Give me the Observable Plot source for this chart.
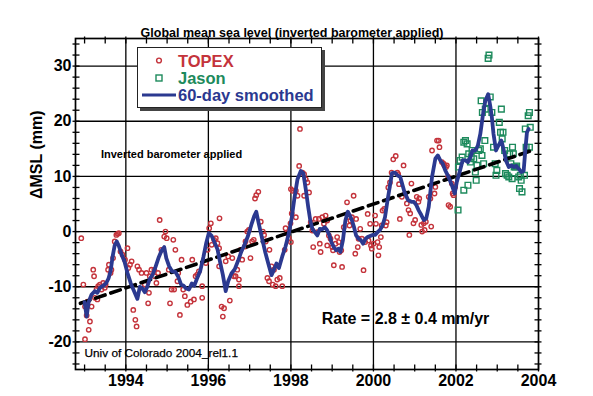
<!DOCTYPE html>
<html><head><meta charset="utf-8">
<script src="https://cdn.jsdelivr.net/npm/d3@7"></script>
<script src="https://cdn.jsdelivr.net/npm/@observablehq/plot@0.6"></script>
<style>
body{margin:0;background:#fff;}
#wrap{position:relative;width:593px;height:396px;font-family:"Liberation Sans",Arial,Helvetica,sans-serif;}
#legend{position:absolute;left:137px;top:47px;width:183px;height:59px;background:#fff;border:1px solid #222;box-shadow:3px 3px 0 #444;}
#legend .item{position:absolute;left:40px;font-weight:bold;font-size:16.5px;line-height:16px;white-space:nowrap;}
#legend svg{position:absolute;left:0;top:0;}
</style></head><body><div id="wrap"></div>
<script>
// ---- data ----
const topex = [
[1992.92,-1.2],[1992.97,-9.6],[1993.01,-13.6],[1993.05,-15.2],[1993.01,-19.5],[1993.10,-17.8],[1993.13,-16.3],[1993.07,-12.7],[1993.17,-13.6],[1993.21,-6.9],[1993.23,-8.1],[1993.25,-12.0],[1993.29,-10.5],[1993.31,-12.3],[1993.33,-9.9],[1993.37,-9.6],[1993.41,-10.5],[1993.45,-9.3],[1993.49,-10.2],[1993.51,-9.6],[1993.57,-6.9],[1993.59,-6.0],[1993.63,-7.5],[1993.65,-6.9],[1993.69,-4.8],[1993.73,-1.8],[1993.77,-0.6],[1993.80,-0.4],[1993.83,-0.3],[1993.87,-3.6],[1993.92,-4.2],[1993.98,-5.1],[1994.04,-3.0],[1994.06,-6.6],[1994.10,-6.0],[1994.14,-5.4],[1994.18,-14.2],[1994.23,-16.0],[1994.26,-17.2],[1994.28,-6.3],[1994.32,-6.9],[1994.38,-7.5],[1994.46,-9.6],[1994.50,-7.5],[1994.54,-13.0],[1994.56,-11.1],[1994.58,-8.1],[1994.62,-6.9],[1994.69,-6.9],[1994.70,-8.1],[1994.74,-9.3],[1994.78,-7.5],[1994.82,2.1],[1994.86,-3.3],[1994.93,-0.9],[1994.96,0],[1994.99,-1.2],[1995.04,-6.9],[1995.07,-13.0],[1995.11,-10.5],[1995.15,-1.5],[1995.17,-10.5],[1995.20,-3.3],[1995.25,-9.0],[1995.27,-7.5],[1995.31,-15.1],[1995.35,-5.1],[1995.39,-10.5],[1995.43,-11.7],
[1995.49,-13.3],[1995.57,-12.7],[1995.61,-5.1],[1995.65,-12.3],[1995.69,-8.1],[1995.73,-7.8],[1995.77,-7.2],[1995.85,-9.9],[1995.85,-12.0],[1995.94,-5.7],[1995.98,-3.3],[1996.02,0.6],[1996.06,1.5],[1996.08,-2.4],[1996.14,-1.5],[1996.18,-1.2],[1996.22,-2.1],[1996.26,-3.0],[1996.26,-6.3],[1996.27,2.4],[1996.32,-13.6],[1996.35,-15.4],[1996.38,-13.9],[1996.42,-5.4],[1996.48,-4.5],[1996.52,-12.5],[1996.58,-4.8],[1996.62,-8.1],[1996.66,-8.1],[1996.70,-6.9],[1996.74,-8.7],[1996.74,-9.9],[1996.78,-3.3],[1996.82,-5.1],[1996.89,-2.7],[1996.90,-1.8],[1996.94,0],[1996.98,0.3],[1997.02,-4.8],[1997.06,-1.8],[1997.10,-1.5],[1997.13,6.0],[1997.16,6.6],[1997.21,7.2],[1997.27,1.8],[1997.32,0],[1997.35,-0.6],[1997.39,-1.8],[1997.43,-8.4],[1997.47,-9.0],[1997.48,-3.3],[1997.53,-6.3],[1997.56,-9.6],[1997.59,-6.9],[1997.63,-9.9],[1997.67,-8.7],[1997.73,-8.4],[1997.79,-9.9],[1997.85,-3.3],[1997.87,0.6],[1997.91,-0.3],[1997.95,-1.2],[1997.99,1.5],[1998.02,3.3],
[1998.00,7.7],[1998.00,-1.9],[1998.04,7.4],[1998.12,7.4],[1998.12,2.6],[1998.16,6.5],[1998.20,11.9],[1998.22,18.6],[1998.28,10.7],[1998.32,10.4],[1998.36,9.5],[1998.40,8.9],[1998.32,6.5],[1998.44,7.1],[1998.48,1.7],[1998.52,0.2],[1998.54,-2.8],[1998.60,2.3],[1998.64,-0.1],[1998.68,2.3],[1998.70,-2.2],[1998.72,-3.7],[1998.76,2.6],[1998.80,1.4],[1998.84,2.9],[1998.88,2.0],[1998.88,-2.5],[1998.92,-0.7],[1998.96,-1.3],[1999.00,-2.8],[1999.02,-3.4],[1999.04,-6.1],[1999.08,-2.2],[1999.12,-1.0],[1999.16,-1.9],[1999.18,-3.7],[1999.22,-3.4],[1999.24,-6.4],[1999.28,0.8],[1999.36,5.3],[1999.40,2.6],[1999.42,1.1],[1999.44,2.0],[1999.48,2.6],[1999.52,6.5],[1999.56,-4.0],[1999.58,2.3],[1999.62,-2.8],[1999.64,-1.3],[1999.68,0.5],[1999.72,-1.3],[1999.76,-7.0],[1999.80,-1.9],[1999.86,3.2],[1999.88,-1.6],[1999.92,1.4],[1999.94,-2.5],[1999.96,-3.1],[2000.00,-2.2],[2000.04,2.9],[2000.06,1.4],[2000.10,-1.9],[2000.12,-4.3],[2000.14,-2.8],[2000.18,-1.0],[2000.20,1.1],[2000.22,3.8],[2000.26,4.1],[2000.30,1.1],[2000.32,1.7],[2000.36,8.0],[2000.40,8.9],[2000.44,10.7],[2000.48,13.1],[2000.54,13.7],[2000.58,10.7],[2000.60,10.4],[2000.62,8.6],[2000.64,2.3],
[2000.69,6.3],[2000.73,12.0],[2000.77,6.9],[2000.81,5.1],[2000.85,3.9],[2000.87,-0.6],[2000.89,3.3],[2000.92,8.7],[2000.97,1.5],[2001.01,2.1],[2001.05,6.3],[2001.09,5.4],[2001.11,6.0],[2001.16,1.2],[2001.18,0],[2001.22,1.5],[2001.24,0.3],[2001.27,1.8],[2001.34,6.3],[2001.38,6.0],[2001.40,0.9],[2001.42,14.7],[2001.48,6.9],[2001.50,8.1],[2001.54,16.5],[2001.58,16.5],[2001.60,15.3],[2001.66,12.6],[2001.70,12.3],[2001.72,12.0],[2001.76,11.7],[2001.78,12.0],[2001.81,9.9],[2001.82,4.8],[2001.86,4.5],[2001.90,8.7],[2001.92,6.9],[2001.94,6.6],[2001.98,8.1]
];
const jason = [
[2002.05,3.9],[2002.06,11.7],[2002.10,12.9],[2002.15,13.5],[2002.19,16.2],[2002.19,7.5],[2002.23,16.5],[2002.27,15.9],[2002.29,8.4],[2002.31,14.1],[2002.35,12.6],[2002.37,13.5],[2002.39,14.7],[2002.43,13.2],[2002.47,10.8],[2002.49,9.3],[2002.51,12.0],[2002.55,14.7],[2002.59,15.0],[2002.63,13.8],[2002.61,23.7],[2002.64,21.6],[2002.67,12.3],[2002.70,16.5],[2002.71,22.2],[2002.75,23.4],[2002.78,31.4],[2002.80,32.0],[2002.83,24.4],[2002.87,21.6],[2002.91,15.3],[2002.95,12.3],[2002.97,10.2],[2002.99,11.1],[2003.05,19.8],[2003.08,18.0],[2003.10,22.2],[2003.12,16.8],[2003.14,18.0],[2003.18,14.7],[2003.20,10.5],[2003.24,10.2],[2003.28,9.9],[2003.30,14.1],[2003.33,12.3],[2003.37,15.3],[2003.39,14.1],[2003.36,9.6],[2003.41,11.7],[2003.44,11.7],[2003.47,11.9],[2003.52,9.9],[2003.56,10.2],[2003.58,9.3],[2003.54,7.8],[2003.60,7.2],[2003.66,10.2],[2003.68,18.6],[2003.70,15.3],[2003.75,21.0],[2003.78,21.6],[2003.80,18.9],[2003.78,15.3]
];
const smoothed = [
[1993.00,-12.8],[1993.05,-15.4],[1993.10,-12.7],[1993.17,-11.4],[1993.25,-10.8],[1993.31,-11.1],[1993.37,-10.2],[1993.45,-9.8],[1993.52,-9.4],[1993.58,-8.5],[1993.63,-7.2],[1993.68,-4.5],[1993.73,-2.5],[1993.78,-1.8],[1993.83,-2.6],[1993.90,-4.2],[1993.97,-5.5],[1994.04,-7.5],[1994.12,-9.4],[1994.20,-10.8],[1994.28,-12.2],[1994.34,-10.0],[1994.40,-10.3],[1994.46,-11.0],[1994.52,-10.0],[1994.58,-8.6],[1994.65,-7.8],[1994.72,-6.4],[1994.80,-4.6],[1994.87,-3.4],[1994.93,-2.8],[1994.98,-4.8],[1995.05,-6.3],[1995.12,-7.2],[1995.20,-7.3],[1995.27,-8.2],[1995.34,-9.6],[1995.40,-9.8],[1995.46,-10.3],[1995.53,-10.5],[1995.60,-9.4],[1995.66,-9.8],[1995.72,-8.6],[1995.80,-7.2],[1995.88,-4.6],[1995.95,-2.0],[1996.01,-0.3],[1996.08,-0.8],[1996.14,-1.8],[1996.22,-3.2],[1996.28,-5.4],[1996.35,-7.8],[1996.42,-10.8],[1996.48,-9.0],[1996.56,-7.6],[1996.64,-6.8],[1996.72,-5.3],[1996.80,-3.6],[1996.88,-2.3],[1996.96,-0.8],[1997.04,1.2],[1997.11,2.8],[1997.16,3.6],[1997.22,1.5],[1997.30,-1.2],[1997.38,-3.8],[1997.46,-6.0],[1997.53,-7.9],[1997.59,-6.9],[1997.65,-5.8],[1997.71,-6.6],[1997.79,-4.5],[1997.87,-2.7],[1997.95,-0.3],[1998.02,2.5],[1998.09,6.3],[1998.16,9.5],[1998.24,11.0],[1998.30,10.6],[1998.36,7.7],[1998.42,4.4],[1998.47,2.0],[1998.52,0.5],[1998.58,-0.1],[1998.64,-0.7],[1998.70,0.5],[1998.76,0.4],[1998.82,0.8],[1998.88,0.2],[1998.93,-0.6],[1998.98,-1.9],[1999.04,-2.8],[1999.10,-3.4],[1999.15,-3.1],[1999.20,-3.7],[1999.26,-1.6],[1999.32,2.0],[1999.38,3.6],[1999.43,2.9],[1999.48,2.0],[1999.53,0.8],[1999.58,-0.7],[1999.64,-1.3],[1999.70,-1.6],[1999.75,-2.2],[1999.81,-1.3],[1999.86,-1.0],[1999.92,-0.8],[1999.98,-0.6],[2000.04,-0.6],[2000.10,-0.1],[2000.16,0.3],[2000.22,1.1],[2000.28,2.6],[2000.34,5.6],[2000.40,8.3],[2000.45,10.6],[2000.52,10.7],[2000.58,10.2],[2000.65,9.9],[2000.75,7.2],[2000.84,5.7],[2000.92,5.4],[2000.98,5.4],[2001.04,4.8],[2001.10,3.8],[2001.16,3.0],[2001.22,2.1],[2001.28,2.4],[2001.34,4.5],[2001.42,9.9],[2001.50,13.2],[2001.56,13.8],[2001.62,12.9],[2001.68,12.3],[2001.74,11.1],[2001.82,9.9],[2001.90,8.4],[2001.97,6.9],[2002.02,9.0],[2002.10,11.1],[2002.16,12.9],[2002.23,12.9],[2002.29,12.6],[2002.35,13.5],[2002.40,14.7],[2002.47,14.7],[2002.53,15.6],[2002.59,17.7],[2002.65,21.0],[2002.71,23.7],[2002.78,24.9],[2002.83,22.8],[2002.87,20.7],[2002.91,17.7],[2002.97,14.7],[2003.03,15.6],[2003.10,16.5],[2003.16,14.7],[2003.21,12.9],[2003.28,11.7],[2003.34,12.0],[2003.40,11.7],[2003.46,11.9],[2003.52,11.4],[2003.58,10.8],[2003.64,11.0],[2003.68,14.7],[2003.72,18.0],[2003.76,18.6]
];
const trend = [[1992.9,-13.0],[2003.8,14.6]];
const xTickLabels = [1994,1996,1998,2000,2002,2004];
const yTickLabels = [-20,-10,0,10,20,30];
const titleText = "Global mean sea level (inverted barometer applied)";
const yLabel = "\u0394MSL (mm)";
const noteText = "Inverted barometer applied";
const creditText = "Univ of Colorado 2004_rel1.1";
const rateText = "Rate = 2.8 \u00b1 0.4 mm/yr";
const seriesNames = ["TOPEX","Jason","60-day smoothed"];
const colors = {topex:"#c4333b", jason:"#1d8a5c", smooth:"#2b3990"};

// ---- chart ----
const xMinor = d3.range(1993, 2004.001, 0.5);
const yMinor = d3.range(-24, 35, 2);
const FONT = "Liberation Sans, Arial, Helvetica, sans-serif";
function ticks(axis, anchor, values){
  const f = axis === "x" ? Plot.axisX : Plot.axisY;
  return [
    f(values, {anchor, tickSize: -4.5, text: null, label: null, stroke:"black", strokeWidth:1.3}),
    f(values, {anchor, tickSize: 2.5, text: null, label: null, stroke:"black", strokeWidth:1.3})
  ];
}
const chart = Plot.plot({
  width: 593, height: 396,
  marginLeft: 75, marginRight: 55, marginTop: 38, marginBottom: 27,
  x: {domain: [1992.78, 2004], axis: null},
  y: {domain: [-25, 35], axis: null},
  style: {fontFamily: FONT, background: "white", overflow: "visible", color: "black"},
  marks: [
    Plot.gridX(xTickLabels.filter(d => d < 2004), {stroke: "black", strokeOpacity: 1, strokeWidth: 1.3}),
    Plot.gridY(yTickLabels, {stroke: "black", strokeOpacity: 1, strokeWidth: 1.3}),
    ...ticks("x", "bottom", xMinor),
    ...ticks("x", "top", xMinor),
    ...ticks("y", "left", yMinor),
    ...ticks("y", "right", yMinor),
    Plot.frame({stroke: "black", strokeWidth: 1.7}),
    Plot.axisX(xTickLabels, {anchor: "bottom", tickSize: 0, tickPadding: 5, label: null, fontSize: 16, fontWeight: "bold", tickFormat: d => String(d)}),
    Plot.axisY(yTickLabels, {anchor: "left", tickSize: 0, tickPadding: 4, label: null, fontSize: 16, fontWeight: "bold", tickFormat: d => String(d)}),
    Plot.dot(topex, {x: d => d[0], y: d => d[1], r: 2.2, stroke: colors.topex, strokeWidth: 1.4, fill: "none"}),
    Plot.dot(jason, {x: d => d[0], y: d => d[1], symbol: "square", r: 3.2, stroke: colors.jason, strokeWidth: 1.4, fill: "none"}),
    Plot.line(trend, {x: d => d[0], y: d => d[1], stroke: "black", strokeWidth: 3.6, strokeDasharray: "10,6"}),
    Plot.line(smoothed, {x: d => d[0], y: d => d[1], stroke: colors.smooth, strokeWidth: 3.8, strokeLinejoin: "round"}),
    Plot.text([titleText], {frameAnchor: "top", dx: -15, dy: -10, fontSize: 12.5, fontWeight: "bold", fill: "black"}),
    Plot.text([yLabel], {frameAnchor: "left", rotate: -90, dx: -39, dy: -5, fontSize: 16, fontWeight: "bold", fill: "black"}),
    Plot.text([noteText], {frameAnchor: "top-left", textAnchor: "middle", dx: 96, dy: 112, fontSize: 11, fontWeight: "bold", fill: "black"}),
    Plot.text([creditText], {frameAnchor: "bottom-left", textAnchor: "start", dx: 9, dy: -13, fontSize: 11.8, fill: "black", stroke: "black", strokeWidth: 0.25}),
    Plot.text([rateText], {frameAnchor: "bottom-left", textAnchor: "middle", dx: 330, dy: -46, fontSize: 16, fontWeight: "bold", fill: "black"})
  ]
});
const wrap = document.getElementById("wrap");
wrap.appendChild(chart);

// ---- legend (inside the plot frame) ----
const leg = document.createElement("div");
leg.id = "legend";
const svgNS = "http://www.w3.org/2000/svg";
const ls = document.createElementNS(svgNS, "svg");
ls.setAttribute("width", 183); ls.setAttribute("height", 59);
ls.innerHTML =
  `<circle cx="21" cy="12.5" r="2.4" fill="none" stroke="${colors.topex}" stroke-width="1.4"/>` +
  `<rect x="18" y="27" width="6" height="6" fill="none" stroke="${colors.jason}" stroke-width="1.4"/>` +
  `<line x1="4" x2="38" y1="47" y2="47" stroke="${colors.smooth}" stroke-width="3.2"/>`;
leg.appendChild(ls);
const itemTops = [4.5, 22, 39];
const itemColors = [colors.topex, colors.jason, colors.smooth];
seriesNames.forEach((name, i) => {
  const s = document.createElement("div");
  s.className = "item";
  s.style.top = itemTops[i] + "px";
  s.style.color = itemColors[i];
  s.textContent = name;
  leg.appendChild(s);
});
wrap.appendChild(leg);
</script></body></html>
